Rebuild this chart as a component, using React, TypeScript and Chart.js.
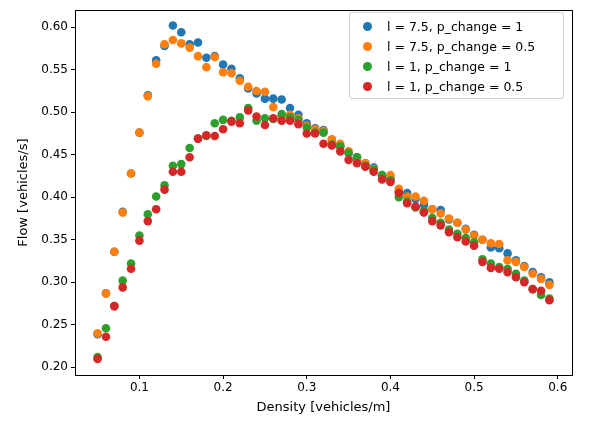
import { useEffect, useRef } from "react";
import { Chart, registerables } from "chart.js";

Chart.register(...registerables);

const density = Array.from({ length: 55 }, (_, i) => +(0.05 + i * 0.01).toFixed(2));

const flowL75P1 = [0.239,0.287,0.336,0.383,0.428,0.476,0.520,0.561,0.578,0.602,0.594,0.580,0.582,0.564,0.566,0.556,0.551,0.540,0.528,0.522,0.516,0.516,0.515,0.505,0.497,0.487,0.481,0.479,0.468,0.460,0.452,0.447,0.440,0.435,0.426,0.422,0.407,0.405,0.398,0.391,0.386,0.385,0.374,0.370,0.363,0.356,0.350,0.341,0.340,0.334,0.326,0.319,0.312,0.306,0.300];
const flowL75P05 = [0.240,0.287,0.336,0.382,0.428,0.476,0.519,0.557,0.580,0.585,0.581,0.576,0.566,0.553,0.565,0.547,0.546,0.537,0.530,0.525,0.524,0.506,0.495,0.497,0.493,0.484,0.480,0.478,0.468,0.463,0.454,0.444,0.440,0.433,0.425,0.426,0.410,0.401,0.401,0.396,0.386,0.381,0.375,0.370,0.362,0.355,0.350,0.346,0.345,0.326,0.324,0.318,0.310,0.304,0.297];
const flowL1P1 = [0.212,0.246,0.272,0.302,0.322,0.355,0.380,0.401,0.414,0.437,0.439,0.458,0.469,0.472,0.487,0.491,0.490,0.494,0.505,0.490,0.493,0.492,0.498,0.494,0.491,0.482,0.476,0.476,0.462,0.460,0.452,0.447,0.437,0.432,0.426,0.420,0.400,0.395,0.388,0.384,0.376,0.370,0.362,0.357,0.352,0.347,0.327,0.322,0.318,0.316,0.310,0.302,0.292,0.285,0.281];
const flowL1P05 = [0.210,0.236,0.272,0.294,0.316,0.349,0.372,0.386,0.409,0.430,0.430,0.447,0.469,0.473,0.472,0.480,0.489,0.487,0.502,0.495,0.485,0.493,0.490,0.490,0.486,0.475,0.475,0.463,0.461,0.454,0.444,0.440,0.436,0.430,0.421,0.418,0.405,0.393,0.389,0.382,0.372,0.367,0.359,0.353,0.348,0.343,0.324,0.317,0.316,0.312,0.306,0.300,0.292,0.290,0.279];

const seriesLabels = ["l = 7.5, p_change = 1", "l = 7.5, p_change = 0.5", "l = 1, p_change = 1", "l = 1, p_change = 0.5"];
const seriesColors = ["#1f77b4", "#ff7f0e", "#2ca02c", "#d62728"];
const xTicks = [0.1, 0.2, 0.3, 0.4, 0.5, 0.6];
const yTicks = [0.2, 0.25, 0.3, 0.35, 0.4, 0.45, 0.5, 0.55, 0.6];

const FONT = "'DejaVu Sans', sans-serif";

// full box round the plot area, like matplotlib's spines
const frame = {
    id: "frame",
    afterDraw(chart: any) {
        const { ctx, chartArea: a } = chart;
        ctx.save();
        ctx.strokeStyle = "#000";
        ctx.lineWidth = 1;
        ctx.strokeRect(Math.round(a.left) + 0.5, Math.round(a.top) + 0.5, Math.round(a.right - a.left), Math.round(a.bottom - a.top));
        ctx.restore();
    },
};

export default function App() {
    const canvasRef = useRef<HTMLCanvasElement>(null);

    useEffect(() => {
        if (!canvasRef.current) return;
        const all = [flowL75P1, flowL75P05, flowL1P1, flowL1P05];
        const chart = new Chart(canvasRef.current, {
            type: "scatter",
            data: {
                datasets: all.map((vals, k) => ({
                    label: seriesLabels[k],
                    data: vals.map((y, i) => ({ x: density[i], y })),
                    backgroundColor: seriesColors[k],
                    borderWidth: 0,
                    pointRadius: 4.3,
                    order: 4 - k,
                })),
            },
            options: {
                animation: false,
                responsive: false,
                layout: { padding: { top: 5, right: 25, left: 12, bottom: 5 } },
                plugins: { legend: { display: false }, tooltip: { enabled: false } },
                scales: {
                    x: {
                        type: "linear",
                        min: 0.023,
                        max: 0.617,
                        afterBuildTicks: (s: any) => { s.ticks = xTicks.map((v) => ({ value: v })); },
                        afterFit: (s: any) => { s.height = 44; },
                        grid: { drawOnChartArea: false, drawTicks: true, tickLength: 4, color: "#000" },
                        border: { color: "#000", width: 1 },
                        ticks: { color: "#000", font: { family: FONT, size: 12 }, padding: 2, callback: (v: any) => (+v).toFixed(1) },
                        title: { display: true, text: "Density [vehicles/m]", color: "#000", font: { family: FONT, size: 13 }, padding: { top: 0 } },
                    },
                    y: {
                        type: "linear",
                        min: 0.191,
                        max: 0.620,
                        afterBuildTicks: (s: any) => { s.ticks = yTicks.map((v) => ({ value: v })); },
                        afterFit: (s: any) => { s.width = 63; },
                        grid: { drawOnChartArea: false, drawTicks: true, tickLength: 4, color: "#000" },
                        border: { color: "#000", width: 1 },
                        ticks: { color: "#000", font: { family: FONT, size: 12 }, padding: 3, callback: (v: any) => (+v).toFixed(2) },
                        title: { display: true, text: "Flow [vehicles/s]", color: "#000", font: { family: FONT, size: 13 }, padding: { bottom: 4 } },
                    },
                },
            },
            plugins: [frame],
        });
        return () => chart.destroy();
    }, []);

    return (
        <div style={{ position: "fixed", left: 0, top: 0, width: 597, height: 424, background: "#fff" }}>
            <canvas ref={canvasRef} width={597} height={424} />
            <div style={{ position: "absolute", left: 349, top: 12, width: 215, height: 87, border: "1px solid #d0d0d0", borderRadius: 3, background: "rgba(255,255,255,0.8)", fontFamily: FONT, fontSize: 12.5, padding: "3px 0 0 0", boxSizing: "border-box" }}>
                {seriesLabels.map((l, k) => (
                    <div key={l} style={{ display: "flex", alignItems: "center", height: 20 }}>
                        <span style={{ display: "inline-block", width: 9, height: 9, borderRadius: "50%", background: seriesColors[k], marginLeft: 13, marginRight: 15 }} />
                        <span>{l}</span>
                    </div>
                ))}
            </div>
        </div>
    );
}
